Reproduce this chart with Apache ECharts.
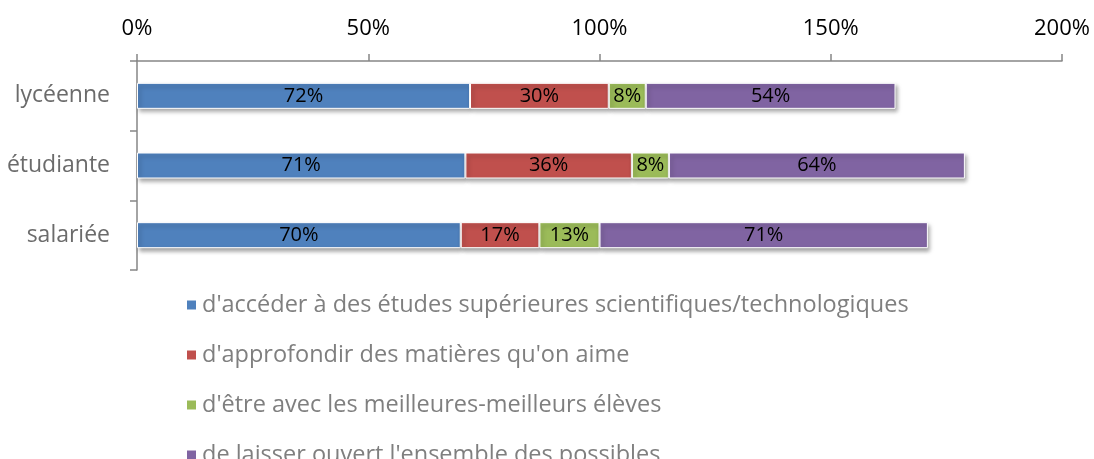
<!DOCTYPE html>
<html>
<head>
<meta charset="utf-8">
<script src="https://cdn.jsdelivr.net/npm/echarts@6/dist/echarts.min.js"></script>
<style>
  html, body { margin: 0; padding: 0; background: #fff; }
  #chart { width: 1094px; height: 459px; }
</style>
</head>
<body>
<div id="chart"></div>
<script>
  const categories = ['lycéenne', 'étudiante', 'salariée'];
  const seriesNames = [
    "d'accéder à des études supérieures scientifiques/technologiques",
    "d'approfondir des matières qu'on aime",
    "d'être avec les meilleures-meilleurs élèves",
    "de laisser ouvert l'ensemble des possibles"
  ];
  const acceder = [72, 71, 70];
  const approfondir = [30, 36, 17];
  const meilleurs = [8, 8, 13];
  const possibles = [54, 64, 71];
  const xTicks = [0, 50, 100, 150, 200];

  const colors = ['#4F81BD', '#C0504D', '#9BBB59', '#8064A2'];
  const font = 'Open Sans';

  const chart = echarts.init(document.getElementById('chart'));
  const makeSeries = (name, data, i) => ({
    name: name,
    type: 'bar',
    stack: 'total',
    data: data,
    barWidth: 26,
    itemStyle: {
      color: colors[i],
      borderColor: '#fff',
      borderWidth: 1,
      shadowColor: 'rgba(0,0,0,0.35)',
      shadowBlur: 4,
      shadowOffsetX: 2,
      shadowOffsetY: 3
    },
    label: {
      show: true,
      position: 'inside',
      formatter: p => p.value + '%',
      color: '#000',
      fontFamily: font,
      fontSize: 20
    }
  });

  chart.setOption({
    animation: false,
    grid: { left: 137, right: 32, top: 61, bottom: 189 },
    xAxis: {
      type: 'value',
      position: 'top',
      min: xTicks[0],
      max: xTicks[xTicks.length - 1],
      interval: 50,
      axisLine: { show: true, lineStyle: { color: '#868686', width: 1.5 } },
      axisTick: { show: true, length: 7, lineStyle: { color: '#868686', width: 1.5 } },
      splitLine: { show: false },
      axisLabel: { formatter: '{value}%', color: '#000', fontFamily: font, fontSize: 22, margin: 21 }
    },
    yAxis: {
      type: 'category',
      data: categories,
      inverse: true,
      axisLine: { show: true, lineStyle: { color: '#868686', width: 1.5 } },
      axisTick: { show: true, length: 7, lineStyle: { color: '#868686', width: 1.5 } },
      axisLabel: { color: '#6b6b6b', fontFamily: font, fontSize: 23, margin: 27, padding: [4, 0, 0, 0] }
    },
    legend: {
      orient: 'vertical',
      left: 180,
      top: 288,
      height: 400,
      itemGap: 26,
      itemWidth: 11,
      itemHeight: 11,
      icon: 'rect',
      textStyle: { color: '#7F7F7F', fontFamily: font, fontSize: 23.5 },
      data: seriesNames
    },
    series: [
      makeSeries(seriesNames[0], acceder, 0),
      makeSeries(seriesNames[1], approfondir, 1),
      makeSeries(seriesNames[2], meilleurs, 2),
      makeSeries(seriesNames[3], possibles, 3)
    ]
  });
</script>
</body>
</html>
